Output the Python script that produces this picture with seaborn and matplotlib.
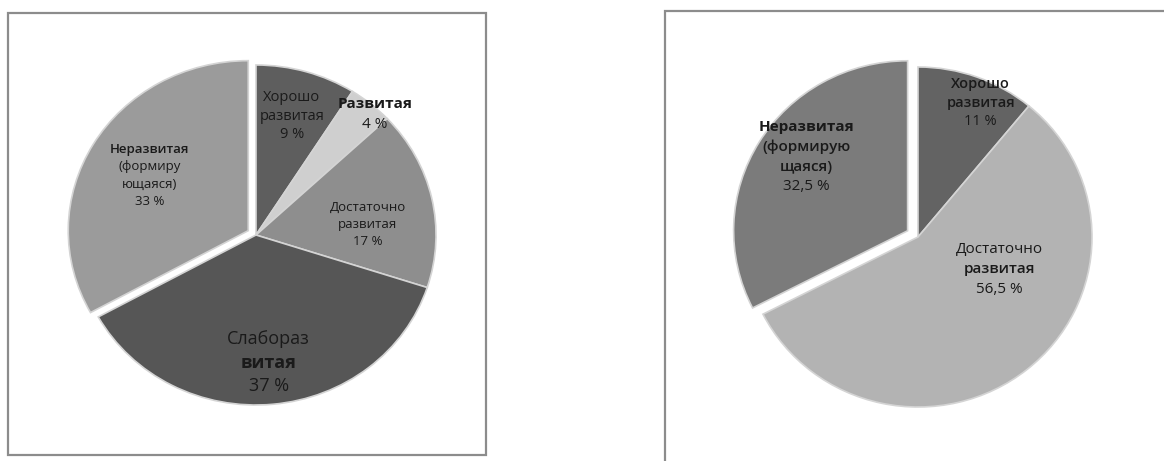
import matplotlib
matplotlib.use("Agg")
import matplotlib.pyplot as plt
import seaborn as sns
from matplotlib.patches import Rectangle

# ---- data ----
left_labels = ["Хорошо\nразвитая", "Развитая", "Достаточно\nразвитая", "Слабораз\nвитая", "Неразвитая\n(формиру\nющаяся)"]
left_values = [9, 4, 17, 37, 33]
left_pct = ["9 %", "4 %", "17 %", "37 %", "33 %"]

right_labels = ["Хорошо\nразвитая", "Достаточно\nразвитая", "Неразвитая\n(формирую\nщаяся)"]
right_values = [11, 56.5, 32.5]
right_pct = ["11 %", "56,5 %", "32,5 %"]

# ---- style ----
sns.set_theme(style="white")
plt.rcParams['font.family'] = ['Open Sans', 'DejaVu Sans']

W, H = 1164, 461
fig = plt.figure(figsize=(W / 100, H / 100), dpi=100)
fig.patch.set_facecolor("white")

def px_rect(x0, y0, x1, y1):
    return [x0 / W, (H - y1) / H, (x1 - x0) / W, (y1 - y0) / H]

# frames
fig.patches.append(Rectangle((8 / W, (H - 455) / H), (486 - 8) / W, (455 - 13) / H,
                             transform=fig.transFigure, fill=False, edgecolor="#8c8c8c", lw=1.6))
fig.patches.append(Rectangle((665 / W, (H - 480) / H), (1180 - 665) / W, (480 - 11) / H,
                             transform=fig.transFigure, fill=False, edgecolor="#8c8c8c", lw=1.6))

def draw_pie(cx, cy, rx, ry, values, labels, pcts, colors, explode, label_pos, styles):
    ax = fig.add_axes(px_rect(cx - 200, cy - 190, cx + 200, cy + 190))
    ax.pie(values, colors=colors, startangle=90, counterclock=False, explode=explode,
           wedgeprops=dict(edgecolor="#d4d4d4", linewidth=1.2))
    ax.set_aspect("auto")
    ax.set_xlim(-200 / rx, 200 / rx)
    ax.set_ylim(-190 / ry, 190 / ry)
    ax.axis("off")
    for lab, pct, (x, y), (fs, weights) in zip(labels, pcts, label_pos, styles):
        lines = lab.split("\n") + [pct]
        n = len(lines)
        step = fs * 1.3
        for i, (line, wgt) in enumerate(zip(lines, weights)):
            off = ((n - 1) / 2 - i) * step
            ax.annotate(line, (x, y), xytext=(0, off), textcoords="offset points",
                        ha="center", va="center", fontsize=fs, fontweight=wgt,
                        color="#1a1a1a")
    return ax

N, B, S = "normal", "bold", "semibold"
left_colors = ["#5e5e5e", "#cfcfcf", "#8e8e8e", "#565656", "#9b9b9b"]
left_explode = [0, 0, 0, 0, 0.05]
left_pos = [(0.20, 0.70), (0.66, 0.71), (0.62, 0.06), (0.07, -0.75), (-0.59, 0.35)]
left_styles = [(10.5, [N, N, N]), (11, [B, N]), (9.5, [N, N, N]),
               (13, [N, B, N]), (9.5, [S, N, N, N])]
draw_pie(256, 235, 180, 170, left_values, left_labels, left_pct, left_colors,
         left_explode, left_pos, left_styles)

right_colors = ["#636363", "#b3b3b3", "#7b7b7b"]
right_explode = [0, 0, 0.07]
right_pos = [(0.36, 0.79), (0.47, -0.19), (-0.64, 0.47)]
right_styles = [(10.5, [S, S, N]), (11, [N, S, N]), (11, [B, S, S, N])]
draw_pie(918, 237, 174, 170, right_values, right_labels, right_pct, right_colors,
         right_explode, right_pos, right_styles)

fig.savefig("out.png", dpi=100, facecolor="white")
